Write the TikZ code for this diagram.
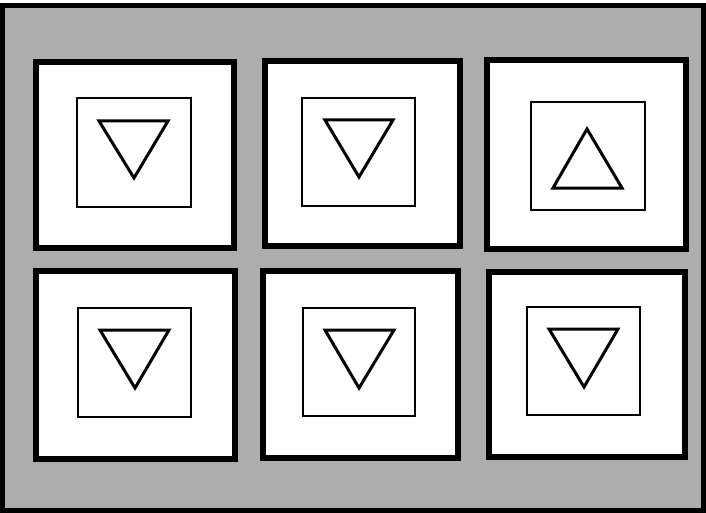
\documentclass[tikz,border=0pt]{standalone}
\begin{document}
\begin{tikzpicture}[x=1pt,y=-1pt,
  frame/.style={draw=black,line width=5pt,fill=black!32},
  panel/.style={draw=black,line width=6.5pt,fill=white},
  inner/.style={draw=black,line width=1.6pt},
  tri/.style={draw=black,line width=3pt,line join=miter}]
\useasboundingbox (0,0) rectangle (706,513);
\draw[frame] (2.5,6) rectangle (703.5,510);
% panels
\draw[panel] (36,62) rectangle (234,248);
\draw[panel] (265,61) rectangle (460,246);
\draw[panel] (487,60) rectangle (686,249);
\draw[panel] (36,271) rectangle (235,459);
\draw[panel] (263,271) rectangle (458,458);
\draw[panel] (489,272) rectangle (685,457);
% inner squares
\draw[inner] (77,98) rectangle (191,207);
\draw[inner] (302,98) rectangle (415,206);
\draw[inner] (531,102) rectangle (645,210);
\draw[inner] (78,308) rectangle (191,417);
\draw[inner] (303,308) rectangle (415,416);
\draw[inner] (527,307) rectangle (640,415);
% triangles
\draw[tri] (99,121) -- (168,121) -- (134,178) -- cycle;
\draw[tri] (325,120) -- (393,120) -- (359,177) -- cycle;
\draw[tri] (587,129) -- (622,188) -- (553,188) -- cycle;
\draw[tri] (100,330) -- (169,330) -- (135,388) -- cycle;
\draw[tri] (325,330) -- (394,330) -- (359,388) -- cycle;
\draw[tri] (549,329) -- (618,329) -- (584,387) -- cycle;
\end{tikzpicture}
\end{document}
